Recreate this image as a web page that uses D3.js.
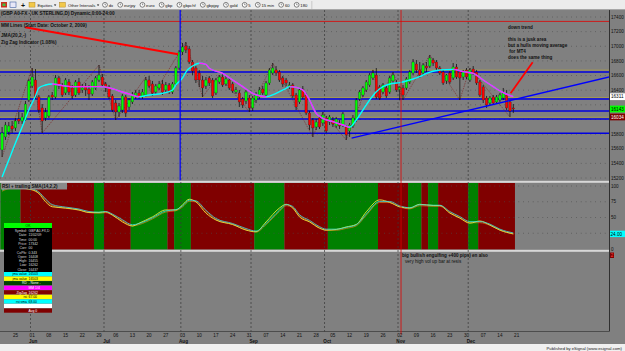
<!DOCTYPE html>
<html>
<head>
<meta charset="utf-8">
<script src="https://cdn.jsdelivr.net/npm/d3@7"></script>
<style>
  body { margin: 0; background: #808080; overflow: hidden; }
  svg { display: block; }
  text { font-family: "Liberation Sans", Arial, sans-serif; }
</style>
</head>
<body>
<svg id="chart" width="625" height="351"></svg>
<script>
// 交易日區間（日線，週一到週五）
const startDate = new Date(2009, 4, 19);
const endDate = new Date(2009, 11, 22);

// K 線資料 GBP A0-FX 日線
const opens = [
  15583,15761,15829,15911,15884,16006,15979,15993,16266,16457,
  16539,16307,16157,16020,16047,16334,16307,16567,16471,16362,
  16512,16430,16334,16512,16403,16444,16416,16348,16430,16539,
  16580,16485,16444,16321,16225,16102,16129,16307,16170,16239,
  16321,16362,16307,16334,16539,16485,16375,16430,16485,16403,
  16471,16375,16485,16703,16922,17004,16963,16785,16703,16635,
  16539,16457,16567,16539,16362,16512,16580,16485,16539,16485,
  16375,16362,16280,16252,16293,16157,16266,16307,16416,16334,
  16498,16635,16676,16648,16567,16539,16444,16471,16334,16239,
  16416,16334,16088,15993,15897,16020,15952,16020,15965,15993,
  15911,15952,15924,15897,15843,15911,15993,16280,16334,16403,
  16471,16567,16607,16444,16375,16430,16375,16526,16498,16408,
  16430,16430,16512,16635,16758,16676,16635,16730,16730,16812,
  16785,16703,16648,16526,16635,16567,16717,16648,16580,16676,
  16539,16689,16648,16512,16444,16293,16225,16307,16239,16266,
  16293,16334,16239,16157
];
const highs = [
  15897,15965,15965,15979,16020,16102,16088,16252,16553,16703,
  16689,16334,16211,16157,16334,16375,16607,16594,16498,16567,
  16553,16471,16539,16567,16485,16498,16471,16539,16594,16744,
  16621,16512,16471,16348,16266,16225,16348,16334,16293,16375,
  16403,16403,16416,16580,16594,16526,16485,16526,16539,16512,
  16498,16512,16730,16949,17045,17058,17004,16812,16730,16676,
  16594,16580,16594,16567,16567,16607,16621,16594,16580,16512,
  16444,16403,16307,16403,16334,16321,16375,16444,16457,16526,
  16703,16771,16730,16676,16594,16567,16512,16498,16362,16430,
  16457,16362,16116,16020,16006,16047,16102,16047,16061,16034,
  16034,15993,16102,15924,15952,16061,16293,16403,16457,16539,
  16635,16676,16703,16471,16498,16471,16594,16648,16539,16455,
  16471,16580,16676,16826,16812,16785,16771,16785,16881,16840,
  16812,16730,16676,16621,16662,16771,16758,16676,16676,16703,
  16703,16730,16676,16539,16471,16321,16321,16334,16334,16362,
  16430,16403,16266,16211
];
const lows = [
  15487,15720,15788,15815,15843,15938,15938,15979,16239,16430,
  16280,16088,15815,15979,16020,16266,16280,16416,16307,16334,
  16334,16280,16307,16334,16362,16321,16266,16321,16403,16512,
  16444,16375,16280,16102,15993,16034,16088,16034,16129,16211,
  16280,16280,16280,16307,16430,16321,16348,16403,16334,16375,
  16348,16348,16457,16676,16881,16908,16758,16607,16498,16444,
  16307,16416,16457,16293,16334,16485,16444,16457,16403,16362,
  16348,16170,16157,16211,16102,16116,16225,16280,16334,16307,
  16471,16607,16594,16512,16444,16457,16416,16293,16129,16211,
  16280,16061,15856,15761,15856,15870,15911,15815,15924,15897,
  15884,15870,15897,15720,15761,15884,15965,16252,16307,16375,
  16444,16539,16280,16266,16348,16293,16348,16498,16375,16262,
  16266,16403,16485,16607,16635,16567,16594,16648,16703,16730,
  16676,16607,16471,16485,16485,16539,16553,16266,16539,16553,
  16512,16607,16471,16307,16225,16157,16198,16198,16211,16239,
  16266,16129,16034,16088
];
const closes = [
  15815,15924,15911,15870,15979,15979,16034,16211,16526,16580,
  16307,16129,15979,16102,16307,16307,16567,16457,16334,16539,
  16375,16321,16512,16362,16430,16403,16348,16512,16567,16607,
  16471,16430,16307,16129,16102,16184,16321,16088,16266,16334,
  16362,16307,16375,16539,16457,16362,16457,16485,16375,16471,
  16375,16485,16703,16922,16990,16949,16785,16662,16539,16539,
  16430,16539,16498,16321,16539,16580,16471,16553,16430,16389,
  16403,16239,16198,16375,16157,16293,16334,16403,16362,16498,
  16676,16703,16635,16539,16485,16498,16471,16321,16170,16403,
  16307,16088,15924,15884,15965,15897,16061,15843,16034,15938,
  16006,15911,16075,15788,15924,16020,16266,16375,16430,16512,
  16607,16635,16307,16293,16471,16321,16567,16607,16403,16437,
  16334,16553,16648,16785,16676,16607,16744,16703,16840,16771,
  16703,16635,16498,16607,16512,16717,16580,16567,16648,16580,
  16676,16635,16498,16334,16266,16198,16293,16225,16307,16334,
  16362,16157,16116,16143
];

// JMA(20,2,-) 讀圖取點
const jmaBars = [0,2,4,6,8,10,11,13,15,17,21,25,29,32,35,38,41,44,48,51,52,54,55,57,59,61,62,66,69,72,75,77,79,82,85,86,88,90,92,94,96,99,102,104,106,108,110,112,114,117,119,122,125,127,131,135,138,141,144,147,150,153];
const jmaValues = [15214,15446,15679,15897,16129,16321,16430,16471,16485,16471,16448,16448,16448,16434,16389,16348,16311,16334,16357,16403,16471,16567,16648,16730,16767,16753,16699,16630,16539,16448,16357,16324,16311,16357,16425,16448,16439,16403,16266,16084,16016,15970,15924,15893,15993,16129,16266,16380,16448,16494,16503,16539,16584,16630,16676,16685,16653,16630,16539,16448,16366,16311];

// Zig Zag (1.08%) 轉折點 [bar, price]
const zigzagPivots = [[0,15487],[9,16703],[12,15815],[29,16744],[34,15993],[43,16580],[45,16321],[55,17058],[60,16307],[65,16607],[74,16102],[81,16771],[93,15761],[96,16102],[103,15720],[111,16676],[113,16266],[117,16648],[120,16266],[128,16881],[137,16266],[140,16703],[152,16034]];

// MM Lines
const mmLevels = [16650, 16280, 16115, 16005, 15810];
const mmMinorLevels = [16675, 16300, 16030];
const mmTopLevel = 17340;

// 手繪趨勢線 [bar, price]
const redTrend = [[6.9, 17259], [52.7, 16890]];
const blueTrend = [[104.6, 15745], [181.7, 16580]];
const arrowLine = [[152.2, 16357], [158.8, 16781]];
const blueVLineBar = 53.3;
const cursorBar = 119.4;

// RSI + trailing SMA(14,2,2)
const rsiBars = [0,3,5,9,11,13,15,19,23,26,29,31,33,36,39,41,45,49,52,54,56,58,61,64,69,73,76,79,83,85,87,89,92,95,97,100,103,106,109,113,116,119,122,125,129,131,134,137,140,143,146,149,151,153];
const rsiValues = [95,99,97,94,88,75,67,65,62,58,58,59,54,43,36.5,41,51,62,62,70,79,75,57,46,39,30,27.5,43,65,71,65,51,43,33,30,31,35,39,59,78,74,67,65,71,69,69,57,49,41,44.5,38,30,26.5,24];
const smaValues = [93,98,98,95,90,79,70,66,63,59,58,59,55,46,38,40,49,60,62,68,77,76,61,48,40,32,28,40,61,70,67,54,45,35,31,31,34,38,55,75,75,68,65,70,69,69,59,51,43,43,39,31,27.5,25];
// 背景色區段 [起, 迄, 1=綠 0=紅]
const rsiZones = [[0,5,1],[6,27,0],[28,30,1],[31,38,0],[39,49,1],[50,51,0],[52,56,1],[57,75,0],[76,84,1],[85,97,0],[98,112,1],[113,121,0],[122,125,1],[126,127,0],[128,130,1],[131,139,0],[140,142,1],[143,153,0]];

// 座標軸刻度
const priceTicks = [15200,15400,15600,15800,16000,16200,16400,16600,16800,17000,17200,17400];
const rsiTicks = [0,25,50,75,100];
const lowerPanelValue = 2;

// 工具列
const toolbarMenus = ["Equities", "Other Intervals"];
const toolbarButtons = ["dx","eurjpy","euro","gbp","gbpchf","gbpjpy","gold","5","15 min","60","180"];

// 圖例文字
const legendLines = ["(GBP A0-FX - UK STERLING,D) Dynamic,0:00-24:00", "MM Lines (Start Date: October 2, 2009)", "JMA(20,2,-)", "Zig Zag Indicator (1.08%)"];
const noteLines = ["down trend", "", "this is a jusk area", "but a hulls moving average", " for MT4", "does the same thing"];

// ---------------------------------------------------------------
const svg = d3.select("#chart");
const plotRight = 609;
const mainTop = 10, mainBottom = 180.5;
const rsiTop = 183, rsiBottom = 249.5;
const axisY = 331.5;

const days = d3.timeDay.range(startDate, endDate).filter((d) => d.getDay() > 0 && d.getDay() < 6);
const x = d3.scaleLinear().domain([0, 153]).range([2.1, 513.3]);
const y = d3.scaleLinear().domain([15200, 17400]).range([178, 17]);
const yRsi = d3.scaleLinear().domain([0, 100]).range([249, 186]);

const defs = svg.append("defs");
defs.append("clipPath").attr("id", "clipMain")
  .append("rect").attr("x", 0).attr("y", mainTop).attr("width", plotRight).attr("height", mainBottom - mainTop);

// 背景
svg.append("rect").attr("width", 625).attr("height", 351).attr("fill", "#808080");
svg.append("rect").attr("y", 344).attr("width", 625).attr("height", 7).attr("fill", "#f0f0f0");
svg.append("text").attr("x", 622).attr("y", 349.6).attr("text-anchor", "end")
  .attr("font-size", 4.2).attr("fill", "#222").text("Published by eSignal (www.esignal.com)");

// RSI 背景色帶
const gRsi = svg.append("g");
gRsi.selectAll("rect").data(rsiZones).join("rect")
  .attr("x", (d) => Math.max(0, x(d[0] - 0.5)))
  .attr("width", (d) => x(d[1] + 0.5) - Math.max(0, x(d[0] - 0.5)))
  .attr("y", rsiTop).attr("height", rsiBottom - rsiTop)
  .attr("fill", (d) => (d[2] ? "#008000" : "#800000"));

// 面板分隔線
[mainBottom + 0.3, rsiBottom + 0.3].forEach((yy) => {
  svg.append("rect").attr("x", 0).attr("y", yy).attr("width", plotRight).attr("height", 2).attr("fill", "#d8d8d8");
});
svg.append("line").attr("x1", 0).attr("x2", plotRight).attr("y1", axisY).attr("y2", axisY)
  .attr("stroke", "#404040").attr("stroke-width", 0.8);
svg.append("line").attr("x1", plotRight + 0.5).attr("x2", plotRight + 0.5).attr("y1", mainTop).attr("y2", axisY)
  .attr("stroke", "#303030").attr("stroke-width", 1);

// 水平虛點格線
const gGrid = svg.append("g").attr("stroke", "#4a4a4a").attr("stroke-width", 0.7).attr("stroke-dasharray", "0.8,4");
gGrid.selectAll("line.p").data(priceTicks).join("line").attr("class", "p")
  .attr("x1", 0).attr("x2", plotRight).attr("y1", (d) => y(d)).attr("y2", (d) => y(d));
gGrid.selectAll("line.r").data(rsiTicks.slice(1)).join("line").attr("class", "r")
  .attr("x1", 0).attr("x2", plotRight).attr("y1", (d) => yRsi(d)).attr("y2", (d) => yRsi(d));

// 月份分隔線
const monthStarts = days.map((d, i) => ({ d, i })).filter((o) => o.i > 0 && o.d.getMonth() !== days[o.i - 1].getMonth());
svg.append("g").selectAll("line").data(monthStarts).join("line")
  .attr("x1", (o) => x(o.i - 0.5)).attr("x2", (o) => x(o.i - 0.5))
  .attr("y1", mainTop).attr("y2", axisY)
  .attr("stroke", "#383838").attr("stroke-width", 0.7).attr("stroke-dasharray", "2,2");

// RSI 線（黃、青兩條幾乎重疊）
const rsiLine = d3.line().x((d) => x(d[0])).y((d) => yRsi(d[1])).curve(d3.curveMonotoneX);
svg.append("path").attr("d", rsiLine(rsiBars.map((b, i) => [b, smaValues[i]])))
  .attr("fill", "none").attr("stroke", "#e08020").attr("stroke-width", 0.7).attr("transform", "translate(0,0.8)");
svg.append("path").attr("d", rsiLine(rsiBars.map((b, i) => [b, rsiValues[i]])))
  .attr("fill", "none").attr("stroke", "#e6e640").attr("stroke-width", 0.9);
svg.append("path").attr("d", rsiLine(rsiBars.map((b, i) => [b, smaValues[i]])))
  .attr("fill", "none").attr("stroke", "#40e0e0").attr("stroke-width", 0.8).attr("transform", "translate(0,-0.3)");

// RSI 標題
svg.append("rect").attr("x", 1).attr("y", rsiTop).attr("width", 66).attr("height", 6.5).attr("fill", "#8a8a8a");
svg.append("text").attr("x", 2).attr("y", rsiTop + 5).attr("font-size", 4.6).attr("font-weight", "bold")
  .attr("fill", "#111").text("RSI + trailing SMA(14,2,2)");

// ---------- 主圖 ----------
const main = svg.append("g").attr("clip-path", "url(#clipMain)");

main.append("line").attr("x1", 0).attr("x2", plotRight).attr("y1", y(mmTopLevel)).attr("y2", y(mmTopLevel))
  .attr("stroke", "#e00000").attr("stroke-width", 0.8);
main.selectAll("line.mmMinor").data(mmMinorLevels).join("line").attr("class", "mmMinor")
  .attr("x1", 0).attr("x2", plotRight).attr("y1", (d) => y(d)).attr("y2", (d) => y(d))
  .attr("stroke", "#b0a040").attr("stroke-width", 0.7);
main.selectAll("line.mm").data(mmLevels).join("line").attr("class", "mm")
  .attr("x1", 0).attr("x2", plotRight).attr("y1", (d) => y(d)).attr("y2", (d) => y(d))
  .attr("stroke", "#0000e0").attr("stroke-width", 1.5);

// zig zag（細暗紅，大多被 K 線蓋住）
main.append("path").attr("d", d3.line().x((d) => x(d[0])).y((d) => y(d[1]))(zigzagPivots))
  .attr("fill", "none").attr("stroke", "#7a1a1a").attr("stroke-width", 0.55).attr("stroke-dasharray", "1.5,1");

// K 線
const bars = opens.map((o, i) => ({ i, o, h: highs[i], l: lows[i], c: closes[i] }));
const gCandle = main.append("g");
gCandle.selectAll("line").data(bars).join("line")
  .attr("x1", (d) => x(d.i)).attr("x2", (d) => x(d.i))
  .attr("y1", (d) => y(d.h)).attr("y2", (d) => y(d.l))
  .attr("stroke", "#111").attr("stroke-width", 0.8);
gCandle.selectAll("rect").data(bars).join("rect")
  .attr("x", (d) => x(d.i) - 1.2).attr("width", 2.4)
  .attr("y", (d) => y(Math.max(d.o, d.c)))
  .attr("height", (d) => Math.max(0.8, Math.abs(y(d.o) - y(d.c))))
  .attr("fill", (d) => (d.c >= d.o ? "#00ff00" : "#ff0000"))
  .attr("stroke", "#202020").attr("stroke-width", 0.3);

// JMA：上升青色、下降洋紅
const jmaPts = jmaBars.map((b, i) => [b, jmaValues[i]]);
const jmaPath = d3.line().x((d) => x(d[0])).y((d) => y(d[1])).curve(d3.curveMonotoneX)(jmaPts);
const downClip = defs.append("clipPath").attr("id", "clipJmaDown");
jmaPts.forEach((p, i) => {
  if (i === 0) return;
  if (p[1] <= jmaPts[i - 1][1]) {
    downClip.append("rect").attr("x", x(jmaPts[i - 1][0])).attr("width", x(p[0]) - x(jmaPts[i - 1][0]) + 0.2)
      .attr("y", 0).attr("height", 200);
  }
});
main.append("path").attr("d", jmaPath).attr("fill", "none").attr("stroke", "#00ffff").attr("stroke-width", 1.4);
main.append("g").attr("clip-path", "url(#clipJmaDown)")
  .append("path").attr("d", jmaPath).attr("fill", "none").attr("stroke", "#ff20ff").attr("stroke-width", 1.4);

// 趨勢線
const seg = d3.line().x((d) => x(d[0])).y((d) => y(d[1]));
main.append("path").attr("d", seg(redTrend)).attr("stroke", "#ff0000").attr("stroke-width", 2);
main.append("path").attr("d", seg(blueTrend)).attr("stroke", "#0000ff").attr("stroke-width", 1.4);
main.append("path").attr("d", seg(arrowLine)).attr("stroke", "#ff0000").attr("stroke-width", 1.8);

// 垂直線
main.append("line").attr("x1", x(blueVLineBar)).attr("x2", x(blueVLineBar)).attr("y1", mainTop).attr("y2", mainBottom)
  .attr("stroke", "#0000ff").attr("stroke-width", 1.2);
svg.append("line").attr("x1", x(cursorBar)).attr("x2", x(cursorBar)).attr("y1", mainTop).attr("y2", axisY + 3)
  .attr("stroke", "#e00000").attr("stroke-width", 0.8);

// 圖例
legendLines.forEach((t, i) => {
  svg.append("text").attr("x", 1).attr("y", [15, 27, 37, 44][i])
    .attr("font-size", 4.7).attr("font-weight", "bold").attr("fill", "#111").text(t);
});

// 註解文字
noteLines.forEach((t, i) => {
  if (!t) return;
  svg.append("text").attr("x", 508).attr("y", 28.5 + i * 6)
    .attr("font-size", 4.6).attr("font-weight", "bold").attr("fill", "#111").attr("xml:space", "preserve").text(t);
});
svg.append("text").attr("x", 402).attr("y", 257).attr("font-size", 4.6).attr("font-weight", "bold").attr("fill", "#111")
  .text("big bullish engulfing +400 pips) en also");
svg.append("text").attr("x", 405).attr("y", 263).attr("font-size", 4.6).attr("fill", "#111")
  .text("very high vol up bar at resis");

// ---------- 右側座標 ----------
const lastLabels = [
  { v: jmaValues[jmaValues.length - 1], bg: "#ffffff", fg: "#000" },
  { v: closes[closes.length - 1], bg: "#00ff00", fg: "#000" },
  { v: zigzagPivots[zigzagPivots.length - 1][1], bg: "#800000", fg: "#fff" },
];
const rsiLast = rsiValues[rsiValues.length - 1];
// 被數值標籤蓋住的刻度不畫
const freePriceTicks = priceTicks.filter((t) => lastLabels.every((l) => Math.abs(y(t) - y(l.v)) > 5));
const freeRsiTicks = rsiTicks.filter((t) => Math.abs(yRsi(t) - yRsi(rsiLast)) > 5);

const gAxis = svg.append("g").attr("font-size", 4.6).attr("fill", "#111");
gAxis.selectAll("text.p").data(freePriceTicks).join("text").attr("class", "p")
  .attr("x", 611).attr("y", (d) => y(d) + 1.7).text((d) => d);
gAxis.selectAll("text.r").data(freeRsiTicks).join("text").attr("class", "r")
  .attr("x", 611).attr("y", (d) => yRsi(d) + 1.7).text((d) => d);

lastLabels.forEach((l) => {
  svg.append("rect").attr("x", 610).attr("y", y(l.v) - 3.4).attr("width", 15).attr("height", 6.8).attr("fill", l.bg);
  svg.append("text").attr("x", 611).attr("y", y(l.v) + 1.7).attr("font-size", 4.6).attr("fill", l.fg).text(l.v);
});
svg.append("rect").attr("x", 610).attr("y", yRsi(rsiLast) - 3.2).attr("width", 15).attr("height", 6.4).attr("fill", "#00ffff");
svg.append("text").attr("x", 610.5).attr("y", yRsi(rsiLast) + 1.7).attr("font-size", 4.6).attr("fill", "#000").text(rsiLast.toFixed(2));
svg.append("rect").attr("x", 610).attr("y", 252.5).attr("width", 4).attr("height", 5.5).attr("fill", "#800000");
svg.append("text").attr("x", 610.8).attr("y", 257).attr("font-size", 4.6).attr("fill", "#ff4040").text(lowerPanelValue);

// ---------- 日期軸 ----------
const fmtDay = d3.timeFormat("%d");
const fmtMonth = d3.timeFormat("%b");
const mondays = days.map((d, i) => ({ d, i })).filter((o) => o.d.getDay() === 1);
svg.append("g").selectAll("text").data(mondays).join("text")
  .attr("x", (o) => x(o.i)).attr("y", 337.2).attr("text-anchor", "middle")
  .attr("font-size", 4.6).attr("fill", "#111").text((o) => fmtDay(o.d));
svg.append("g").selectAll("text").data(monthStarts).join("text")
  .attr("x", (o) => x(o.i) + 1).attr("y", 343).attr("text-anchor", "middle")
  .attr("font-size", 4.6).attr("font-weight", "bold").attr("fill", "#111").text((o) => fmtMonth(o.d));

// ---------- 資料視窗 ----------
const wb = bars[119];
const jmaAtCursor = jmaValues[jmaBars.indexOf(119)];
const rsiAtCursor = rsiValues[rsiBars.indexOf(119)];
const smaAtCursor = smaValues[rsiBars.indexOf(119)];
const infoRows = [
  ["Symbol:", "GBP A0-FX,D"], ["Date:", d3.timeFormat("%m/%d/%y")(days[119])], ["Time:", "00:00"],
  ["Price:", "17342"], ["Corr:", "00"], ["CoPfx:", "0.343"],
  ["Open:", wb.o], ["High:", wb.h], ["Low:", wb.l], ["Close:", wb.c],
];
const colorRows = [
  ["jma value", jmaAtCursor, "#00ffff", "#000"],
  ["jma value", jmaAtCursor, "#ffff00", "#000"],
  ["RD", "- None -", "#004000", "#fff"],
  ["", "MM 1/4", "#ff00ff", "#fff"],
  ["ZigZag", wb.l, "#800000", "#fff"],
  ["rsi", rsiAtCursor.toFixed(2), "#ffff00", "#000"],
  ["rsi sma", smaAtCursor.toFixed(2), "#00ffff", "#000"],
  ["", "", "#ffffff", "#000"],
  ["", "Avg 0", "#800000", "#fff"],
];
const dw = svg.append("g").attr("font-size", 3.4);
dw.append("rect").attr("x", 4).attr("y", 223).attr("width", 48).attr("height", 5).attr("fill", "#00ff00");
dw.append("text").attr("x", 28).attr("y", 227).attr("text-anchor", "middle").attr("fill", "#003000").text("OK");
dw.append("rect").attr("x", 4).attr("y", 228).attr("width", 48).attr("height", 44).attr("fill", "#000");
infoRows.forEach((r, i) => {
  dw.append("text").attr("x", 27).attr("y", 232 + i * 4.3).attr("text-anchor", "end").attr("fill", "#ddd").text(r[0]);
  dw.append("text").attr("x", 28.5).attr("y", 232 + i * 4.3).attr("fill", "#ddd").text(r[1]);
});
colorRows.forEach((r, i) => {
  const ry = 272 + i * 4.55;
  dw.append("rect").attr("x", 4).attr("y", ry).attr("width", 48).attr("height", 4.3).attr("fill", r[2]);
  dw.append("text").attr("x", 27).attr("y", ry + 3.3).attr("text-anchor", "end").attr("fill", r[3]).text(r[0]);
  dw.append("text").attr("x", 28.5).attr("y", ry + 3.3).attr("fill", r[3]).text(r[1]);
});

// ---------- 工具列 ----------
const tb = svg.append("g");
tb.append("rect").attr("width", 625).attr("height", 9.5).attr("fill", "#ececec");
tb.append("line").attr("x1", 0).attr("x2", 625).attr("y1", 9.6).attr("y2", 9.6).attr("stroke", "#9a9a9a").attr("stroke-width", 0.6);
tb.append("rect").attr("x", 1).attr("y", 2).attr("width", 6).attr("height", 5.5).attr("fill", "#c83020");
tb.append("rect").attr("x", 2.5).attr("y", 3.5).attr("width", 3).attr("height", 2.5).attr("fill", "#40c040");
tb.append("rect").attr("x", 10).attr("y", 2).attr("width", 6).attr("height", 5.5).attr("fill", "#e8e8f8").attr("stroke", "#4060a0").attr("stroke-width", 0.6);
tb.append("text").attr("x", 21).attr("y", 7.6).attr("font-size", 7).attr("font-weight", "bold").attr("fill", "#111").text("+");
let tx = 29;
toolbarMenus.forEach((m) => {
  tb.append("rect").attr("x", tx).attr("y", 2.3).attr("width", 6).attr("height", 4.8).attr("fill", "#f2c84a").attr("stroke", "#a07818").attr("stroke-width", 0.4);
  const t = tb.append("text").attr("x", tx + 8.5).attr("y", 6.9).attr("font-size", 4.2).attr("fill", "#111").text(m);
  const w = t.node().getComputedTextLength();
  tb.append("path").attr("d", `M${tx + 10 + w},4.5 l2.4,0 l-1.2,1.6 z`).attr("fill", "#111");
  tx += 8.5 + w + 7;
});
toolbarButtons.forEach((b) => {
  tb.append("circle").attr("cx", tx + 2.6).attr("cy", 4.8).attr("r", 2.4).attr("fill", "#fff").attr("stroke", "#333").attr("stroke-width", 0.6);
  tb.append("path").attr("d", `M${tx + 2.6},3.4 v1.5 h1`).attr("stroke", "#333").attr("stroke-width", 0.5).attr("fill", "none");
  const t = tb.append("text").attr("x", tx + 6.3).attr("y", 6.9).attr("font-size", 4.2).attr("fill", "#111").text(b);
  tx += 6.3 + t.node().getComputedTextLength() + 4.5;
});
tb.append("line").attr("x1", tx).attr("x2", tx).attr("y1", 1).attr("y2", 9).attr("stroke", "#b0b0b0").attr("stroke-width", 0.6);
</script>
</body>
</html>
